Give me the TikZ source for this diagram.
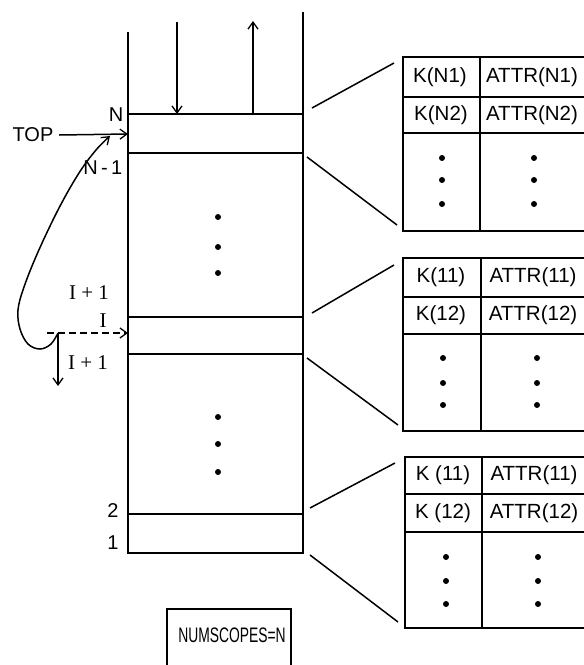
\documentclass[tikz,border=0pt]{standalone}
\usepackage{fontspec}
\usepackage{graphicx}
\setmainfont{Liberation Sans}
\newfontfamily\serifl{Liberation Serif}
\usetikzlibrary{arrows.meta}
\begin{document}
\begin{tikzpicture}[x=1pt,y=-1pt, line width=1.5pt,
  tip/.style={-{Straight Barb[length=7pt,width=10pt,line width=1.3pt]}},
  lbl/.style={font=\fontsize{20}{22}\selectfont, inner sep=0pt},
  ilbl/.style={font=\serifl\fontsize{21}{22}\selectfont, inner sep=0pt},
  cell/.style={font=\fontsize{20.5}{22}\selectfont, inner sep=0pt},
  dotn/.style={circle, fill, inner sep=0pt, minimum size=6pt}]
\useasboundingbox (0,0) rectangle (584,665);
\clip (0,0) rectangle (584,665);

% ---- stack ----
\coordinate (sLT) at (128,32);
\coordinate (sRT) at (303,12);
\coordinate (sLB) at (128,553);
\coordinate (sRB) at (303,553);
\draw (sLT) -- (sLB) -- (sRB) -- (sRT);
\foreach \y/\n in {114/a,153/b,317/c,354/d,514/e}{
  \coordinate (h\n L) at (128,\y);
  \coordinate (h\n R) at (303,\y);
  \draw (h\n L) -- (h\n R);
}
% push / pop arrows
\coordinate (inTop) at (177,22);
\coordinate (inBot) at (177,114);
\draw[tip] (inTop) -- (inBot);
\coordinate (outBot) at (253,114);
\coordinate (outTop) at (253,21);
\draw[tip] (outBot) -- (outTop);

% dots in stack
\foreach \y [count=\i] in {217,247,273,417,444,472}{
  \node[dotn] (sd\i) at (218,\y) {};
}

% labels
\node[lbl] (top) at (33,135) {TOP};
\coordinate (topT) at (128,134);
\draw[tip] ([xshift=5pt]top.east) -- (topT);
\node[lbl] (lN) at (116,115) {N};
\node[lbl, anchor=east] (lN1) at (123,168) {N\,-\,1};
\node[ilbl] (lI1a) at (89,293) {I + 1};
\node[ilbl] (lI) at (103,321) {I};
\node[ilbl] (lI1b) at (88,363) {I + 1};
\node[lbl] (l2) at (113,511) {2};
\node[lbl] (l1) at (113,543) {1};

% dashed arrow and loop
\coordinate (dS) at (47,333);
\coordinate (dE) at (128,333);
\draw[tip, dash pattern=on 7pt off 4pt] (dS) -- (dE);
\coordinate (cS) at (58,333);
\coordinate (cD) at (58,386);
\draw[tip] (cS) -- (cD);
\draw[tip] plot[smooth, tension=0.6] coordinates {(58,333) (51,344) (40,349) (28,344) (20,329) (18,310) (24,287) (38,252) (59,208) (79,173) (96,150) (110,136)};

% ---- tables ----
% table 1
\draw (403,57) rectangle (600,231);
\draw (403,97) -- (600,97);
\draw (403,133) -- (600,133);
\draw (480,57) -- (480,231);
\node[cell] (k1a) at (440,77) {K(N1)};
\node[cell] (a1a) at (532,77) {ATTR(N1)};
\node[cell] (k1b) at (441,115) {K(N2)};
\node[cell] (a1b) at (532,115) {ATTR(N2)};
\foreach \y [count=\i] in {158,180,204}{
  \node[dotn] (t1l\i) at (442,\y) {};
  \node[dotn] (t1r\i) at (534,\y) {};
}
\coordinate (f1a) at (312,108); \coordinate (g1a) at (394,63);
\coordinate (f1b) at (307,157); \coordinate (g1b) at (397,225);
\draw (f1a) -- (g1a);
\draw (f1b) -- (g1b);

% table 2
\draw (403,258) rectangle (600,431);
\draw (403,297) -- (600,297);
\draw (403,334) -- (600,334);
\draw (481,258) -- (481,431);
\node[cell] (k2a) at (441,277) {K(11)};
\node[cell] (a2a) at (533,277) {ATTR(11)};
\node[cell] (k2b) at (441,315) {K(12)};
\node[cell] (a2b) at (533,315) {ATTR(12)};
\foreach \y [count=\i] in {358,383,405}{
  \node[dotn] (t2l\i) at (443,\y) {};
  \node[dotn] (t2r\i) at (537,\y) {};
}
\coordinate (f2a) at (312,313); \coordinate (g2a) at (394,265);
\coordinate (f2b) at (307,358); \coordinate (g2b) at (398,425);
\draw (f2a) -- (g2a);
\draw (f2b) -- (g2b);

% table 3
\draw (405,457) rectangle (600,628);
\draw (405,494) -- (600,494);
\draw (405,532) -- (600,532);
\draw (482,457) -- (482,628);
\node[cell] (k3a) at (443,475) {K (11)};
\node[cell] (a3a) at (534,475) {ATTR(11)};
\node[cell] (k3b) at (443,513) {K (12)};
\node[cell] (a3b) at (534,513) {ATTR(12)};
\foreach \y [count=\i] in {557,581,604}{
  \node[dotn] (t3l\i) at (446,\y) {};
  \node[dotn] (t3r\i) at (538,\y) {};
}
\coordinate (f3a) at (310,508); \coordinate (g3a) at (395,463);
\coordinate (f3b) at (310,555); \coordinate (g3b) at (398,622);
\draw (f3a) -- (g3a);
\draw (f3b) -- (g3b);

% ---- NUMSCOPES box ----
\draw (167,680) -- (167,609) -- (291,609) -- (291,680);
\node[font=\fontsize{21}{23}\selectfont, inner sep=0pt] (ns) at (232,635) {\scalebox{0.66}[1]{NUMSCOPES=N}};
\end{tikzpicture}
\end{document}
